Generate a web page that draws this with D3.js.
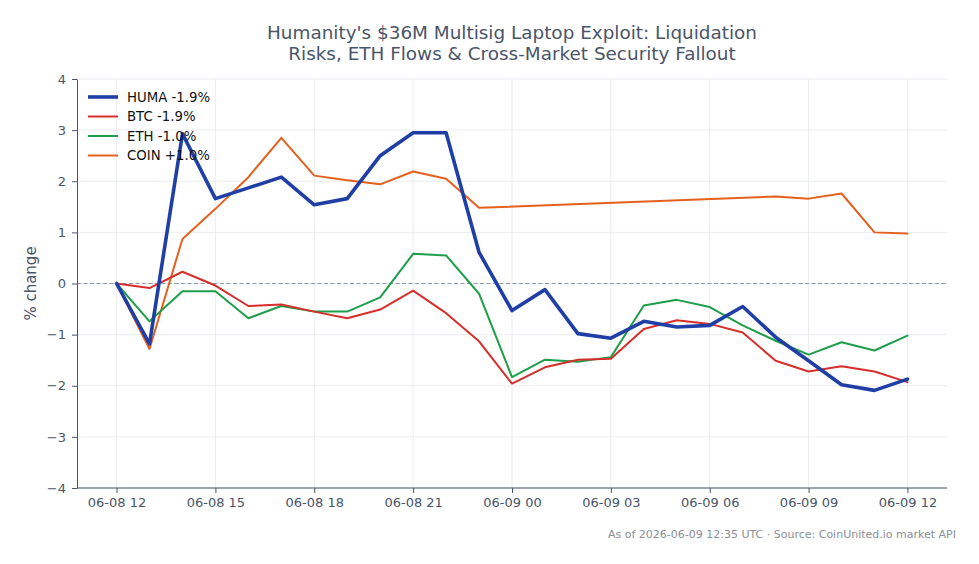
<!DOCTYPE html>
<html><head><meta charset="utf-8">
<script src="https://cdn.jsdelivr.net/npm/d3@7"></script>
<style>body{margin:0;background:#fff;}svg{display:block;font-family:"DejaVu Sans",sans-serif;}</style>
</head><body><svg id="c" width="979" height="564"></svg>
<script>
const startTime = "2026-06-08T12:00:00Z";
const hoursFromStart = [0,1,2,3,4,5,6,7,8,9,10,11,12,13,14,15,16,17,18,19,20,21,22,23,24];
const humaValues = [0,-1.18,2.93,1.66,1.87,2.08,1.54,1.66,2.50,2.95,2.95,0.61,-0.53,-0.12,-0.98,-1.07,-0.74,-0.85,-0.82,-0.45,-1.05,-1.51,-1.98,-2.09,-1.87];
const btcValues = [0,-0.09,0.23,-0.04,-0.44,-0.41,-0.55,-0.68,-0.51,-0.14,-0.58,-1.13,-1.96,-1.64,-1.49,-1.47,-0.89,-0.72,-0.79,-0.96,-1.51,-1.72,-1.62,-1.72,-1.93];
const ethValues = [0,-0.74,-0.15,-0.15,-0.68,-0.44,-0.55,-0.55,-0.27,0.58,0.55,-0.20,-1.83,-1.49,-1.53,-1.44,-0.43,-0.32,-0.46,-0.82,-1.12,-1.39,-1.15,-1.31,-1.02];
const coinValues = [0,-1.28,0.87,1.46,2.08,2.85,2.11,2.02,1.94,2.19,2.05,1.48,null,null,null,null,null,null,null,null,1.70,1.66,1.76,1.00,0.98];
const seriesNames = ["HUMA -1.9%","BTC -1.9%","ETH -1.0%","COIN +1.0%"];
const seriesColors = ["#1f3fa6","#d62f2b","#1e9e4a","#e5601c"];
const seriesWidths = [3.6,2,2,2];
const yTicks = [-4,-3,-2,-1,0,1,2,3,4];
const titleLines = ["Humanity's $36M Multisig Laptop Exploit: Liquidation","Risks, ETH Flows & Cross-Market Security Fallout"];
const yLabel = "% change";
const footer = "As of 2026-06-09 12:35 UTC · Source: CoinUnited.io market API";

const svg = d3.select("#c");
const M = {l:77, r:947, t:79, b:488};
const t0 = new Date(startTime);
const hr = 3600e3;
const times = hoursFromStart.map(h => new Date(+t0 + h*hr));
const x = d3.scaleUtc().domain([new Date(+t0 - 1.2*hr), new Date(+t0 + 25.2*hr)]).range([M.l, M.r]);
const y = d3.scaleLinear().domain([-4,4]).range([M.b, M.t]);
const xTickVals = d3.range(0,25,3).map(h => new Date(+t0 + h*hr));
const fmt = d3.utcFormat("%m-%d %H");
const textCol = "#4a5568";

// grid
const g = svg.append("g");
g.selectAll(".vg").data(xTickVals).join("line")
  .attr("x1",d=>x(d)).attr("x2",d=>x(d)).attr("y1",M.t).attr("y2",M.b)
  .attr("stroke","#e6e9ef").attr("stroke-width",0.8);
g.selectAll(".hg").data(yTicks).join("line")
  .attr("x1",M.l).attr("x2",M.r).attr("y1",d=>y(d)).attr("y2",d=>y(d))
  .attr("stroke","#e6e9ef").attr("stroke-width",0.8);

// zero line
svg.append("line").attr("x1",M.l).attr("x2",M.r).attr("y1",y(0)).attr("y2",y(0))
  .attr("stroke","#8f9bb3").attr("stroke-width",1).attr("stroke-dasharray","4,2.5");

// axes
const xAxis = svg.append("g").attr("transform",`translate(0,${M.b})`)
  .call(d3.axisBottom(x).tickValues(xTickVals).tickFormat(fmt).tickSize(5).tickSizeOuter(0).tickPadding(5));
const yAxis = svg.append("g").attr("transform",`translate(${M.l},0)`)
  .call(d3.axisLeft(y).tickValues(yTicks).tickSize(5).tickSizeOuter(0).tickPadding(6));
[xAxis,yAxis].forEach(a=>{
  a.selectAll("path").attr("stroke",textCol).attr("stroke-width",1);
  a.selectAll("line").attr("stroke",textCol);
  a.selectAll("text").attr("fill",textCol).attr("font-size",13).attr("font-family","DejaVu Sans");
});
xAxis.select("path").attr("d",`M${M.l},0H${M.r}`);

// lines
const allSeries = [humaValues, btcValues, ethValues, coinValues];
const line = d3.line().x(d=>x(d.t)).y(d=>y(d.v));
const order = [3,2,1,0];
order.forEach(i=>{
  const pts = allSeries[i].map((v,k)=>({t:times[k], v})).filter(d=>d.v!==null);
  svg.append("path").datum(pts).attr("d",line).attr("fill","none")
    .attr("stroke",seriesColors[i]).attr("stroke-width",seriesWidths[i])
    .attr("stroke-linejoin","round").attr("stroke-linecap","round");
});

// legend
const lg = svg.append("g");
seriesNames.forEach((n,i)=>{
  const yy = 97 + i*19.5;
  lg.append("line").attr("x1",88).attr("x2",118).attr("y1",yy).attr("y2",yy)
    .attr("stroke",seriesColors[i]).attr("stroke-width",seriesWidths[i]);
  lg.append("text").attr("x",127).attr("y",yy).attr("dy","0.35em")
    .attr("font-size",13.3).attr("fill","#111").text(n);
});

// title
titleLines.forEach((t,i)=>{
  svg.append("text").attr("x",512).attr("y",39+i*21).attr("text-anchor","middle")
    .attr("font-size",18.4).attr("fill",textCol).text(t);
});
// y label
svg.append("text").attr("transform",`translate(36,${y(0)}) rotate(-90)`)
  .attr("text-anchor","middle").attr("font-size",15).attr("fill",textCol).text(yLabel);
// footer
svg.append("text").attr("x",956).attr("y",538).attr("text-anchor","end")
  .attr("font-size",11).attr("fill","#8a8f98").text(footer);
</script></body></html>
